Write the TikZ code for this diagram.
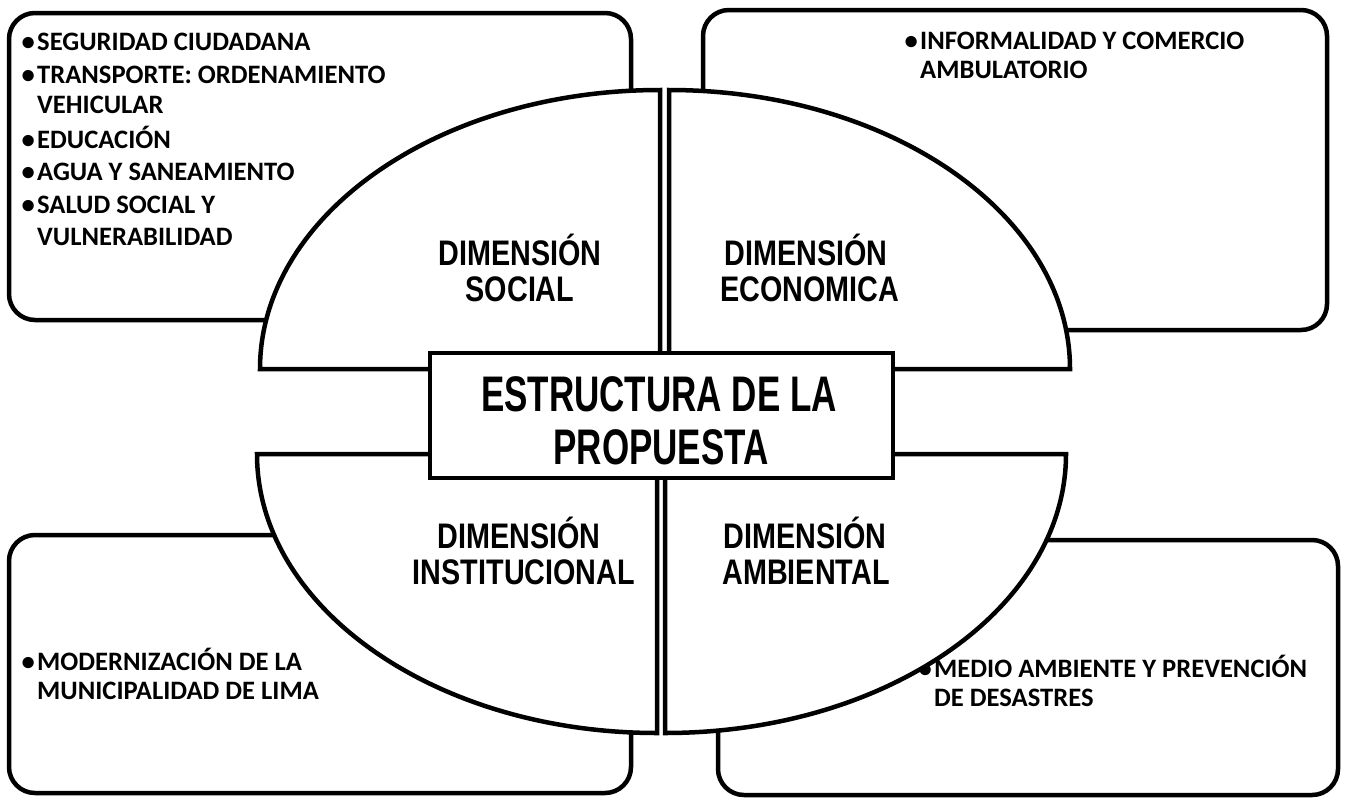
\documentclass[tikz,border=0pt]{standalone}
\usepackage{fontspec}
\setmainfont{Carlito}
\newfontfamily\dimfont[FakeStretch=0.81]{Liberation Sans}
\newfontfamily\titlefont[FakeStretch=0.70]{Liberation Sans}
\newcommand{\bul}{\makebox[13pt][l]{\hspace*{-2.5pt}•}}
\newcommand{\nobul}{\hspace*{13pt}}
\begin{document}
\begin{tikzpicture}[x=1pt,y=1pt,
  box/.style={draw=black, fill=white, line width=4.5pt, rounded corners=26pt},
  quad/.style={draw=black, fill=white, line width=4.5pt, line join=miter},
  core/.style={draw=black, fill=white, line width=4.5pt},
  item/.style={anchor=base west, inner sep=0pt, font=\bfseries\fontsize{26.6}{30}\selectfont},
  dimtxt/.style={anchor=base, inner sep=0pt, font=\dimfont\bfseries\fontsize{35.5}{37}\selectfont},
  ttl/.style={anchor=base, inner sep=0pt, font=\titlefont\bfseries\fontsize{50}{53}\selectfont}]
\useasboundingbox (0,0) rectangle (1348,-798);
\fill[white] (0,0) rectangle (1348,-798);

% outer boxes
\draw[box] (9,-13) rectangle (631,-320);
\draw[box] (703,-10) rectangle (1327,-330);
\draw[box] (9,-535) rectangle (631,-793);
\draw[box] (718,-540) rectangle (1338,-795);

% box texts
\node[item] (s1) at (24,-50) {\bul SEGURIDAD CIUDADANA};
\node[item] (s2) at (24,-83) {\bul TRANSPORTE: ORDENAMIENTO};
\node[item] (s3) at (24,-113) {\nobul VEHICULAR};
\node[item] (s4) at (24,-148) {\bul EDUCACIÓN};
\node[item] (s5) at (24,-180) {\bul AGUA Y SANEAMIENTO};
\node[item] (s6) at (24,-213) {\bul SALUD SOCIAL Y};
\node[item] (s7) at (24,-245) {\nobul VULNERABILIDAD};

\node[item] (e1) at (907,-49) {\bul INFORMALIDAD Y COMERCIO};
\node[item] (e2) at (907,-78) {\nobul AMBULATORIO};

\node[item] (i1) at (24,-670) {\bul MODERNIZACIÓN DE LA};
\node[item] (i2) at (24,-699) {\nobul MUNICIPALIDAD DE LIMA};

\node[item] (a1) at (921,-677) {\bul MEDIO AMBIENTE Y PREVENCIÓN};
\node[item] (a2) at (921,-706) {\nobul DE DESASTRES};

% quarter ellipses
\draw[quad] (660,-369) -- (660,-90)
  arc[start angle=90, end angle=180, x radius=400, y radius=279] -- cycle;
\draw[quad] (669,-369) -- (669,-90)
  arc[start angle=90, end angle=0, x radius=401, y radius=279] -- cycle;
\draw[quad] (657,-454) -- (257,-454)
  arc[start angle=180, end angle=270, x radius=400, y radius=279] -- cycle;
\draw[quad] (665,-454) -- (1066,-454)
  arc[start angle=0, end angle=-90, x radius=401, y radius=279] -- cycle;

% dimension labels
\node[dimtxt] (soc1) at (520,-265) {DIMENSIÓN};
\node[dimtxt] (soc2) at (520,-301) {SOCIAL};
\node[dimtxt] (eco1) at (806,-265) {DIMENSIÓN};
\node[dimtxt] (eco2) at (810,-301) {ECONOMICA};
\node[dimtxt] (ins1) at (519,-548) {DIMENSIÓN};
\node[dimtxt] (ins2) at (524,-584) {INSTITUCIONAL};
\node[dimtxt] (amb1) at (805,-548) {DIMENSIÓN};
\node[dimtxt] (amb2) at (806,-584) {AMBIENTAL};

% centre box
\draw[core] (430,-353) rectangle (893,-478);
\node[ttl] (t1) at (659,-411) {ESTRUCTURA DE LA};
\node[ttl] (t2) at (661,-464) {PROPUESTA};
\end{tikzpicture}
\end{document}
